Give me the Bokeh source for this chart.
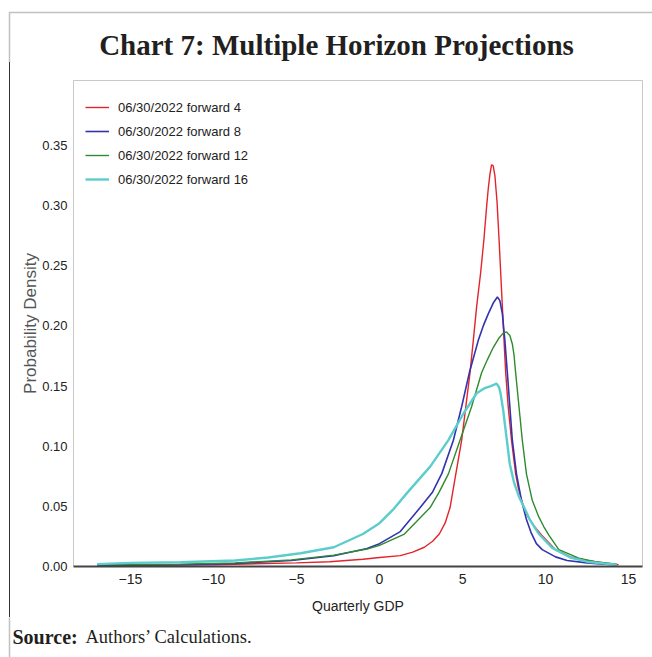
from bokeh.plotting import figure
from bokeh.models import (Legend, LegendItem, Label, BoxAnnotation, FixedTicker, Range1d,
                          CustomJSTickFormatter, Div)
from bokeh.layouts import column, row
from bokeh.embed import file_html
from bokeh.resources import INLINE

title_text = "Chart 7: Multiple Horizon Projections"
source_head = "Source:"
source_text = "Authors\u2019 Calculations."
x_label = "Quarterly GDP"
y_label = "Probability Density"
series_names = ["06/30/2022 forward 4", "06/30/2022 forward 8",
                "06/30/2022 forward 12", "06/30/2022 forward 16"]
x_ticks = [-15, -10, -5, 0, 5, 10, 15]
y_ticks = [0.00, 0.05, 0.10, 0.15, 0.20, 0.25, 0.30, 0.35]

red_x = [-17, -10, -5, -3, -1, 0, 1.25, 2.0, 2.7, 3.2, 3.6, 3.95, 4.25, 4.6, 4.95, 5.2,
         5.45, 5.65, 5.85, 6.09, 6.29, 6.45, 6.55, 6.65, 6.75, 6.85, 6.95, 7.08, 7.2, 7.3,
         7.4, 7.5, 7.6, 7.75, 7.95, 8.2, 8.35, 8.5, 8.7, 8.9, 9.3, 9.8, 10.6, 11.5, 12.5,
         13.5, 14.4]
red_y = [0.0005, 0.0015, 0.003, 0.004, 0.006, 0.0075, 0.009, 0.012, 0.016, 0.021, 0.027,
         0.036, 0.049, 0.0772, 0.105, 0.133, 0.161, 0.188, 0.216, 0.244, 0.272, 0.299,
         0.314, 0.326, 0.334, 0.333, 0.325, 0.303, 0.272, 0.244, 0.216, 0.188, 0.161,
         0.133, 0.105, 0.077, 0.066, 0.058, 0.049, 0.042, 0.034, 0.0255, 0.014, 0.008,
         0.005, 0.003, 0.0015]

blue_x = [-17, -12, -8.7, -5.3, -2.75, -0.75, 0, 1.25, 2.45, 3.2, 3.75, 4.45, 4.95, 5.41,
          5.95, 6.25, 6.55, 6.85, 7.1, 7.25, 7.4, 7.55, 7.7, 7.85, 8.0, 8.25, 8.55, 8.85,
          9.15, 9.45, 9.8, 10.6, 11.3, 12.5, 13.5, 14.3]
blue_y = [0.001, 0.0015, 0.0025, 0.005, 0.009, 0.015, 0.019, 0.029, 0.049, 0.062, 0.0772,
          0.105, 0.133, 0.161, 0.188, 0.2, 0.21, 0.219, 0.224, 0.221, 0.21, 0.188, 0.161,
          0.133, 0.105, 0.077, 0.055, 0.039, 0.0275, 0.019, 0.014, 0.008, 0.005, 0.003,
          0.002, 0.0015]

green_x = [-17, -12, -8.7, -5.3, -2.75, -0.75, 0, 1.5, 3.05, 3.6, 4.15, 4.85, 5.55, 6.15,
           6.5, 6.85, 7.2, 7.45, 7.65, 7.85, 8.0, 8.1, 8.2, 8.4, 8.6, 8.85, 9.2, 9.6, 9.9,
           10.2, 10.8, 12.0, 13.0, 14.3]
green_y = [0.0015, 0.002, 0.003, 0.0055, 0.0095, 0.0145, 0.0175, 0.027, 0.049, 0.062,
           0.077, 0.105, 0.133, 0.161, 0.172, 0.182, 0.19, 0.194, 0.195, 0.192, 0.185,
           0.176, 0.161, 0.133, 0.105, 0.077, 0.055, 0.041, 0.033, 0.026, 0.014, 0.007,
           0.004, 0.002]

cyan_x = [-17, -15, -12, -8.7, -6.7, -4.75, -2.75, -1, 0, 0.8, 1.65, 3.05, 4.15, 5.05,
          5.85, 6.3, 6.7, 7.05, 7.2, 7.29, 7.45, 7.6, 7.85, 8.1, 8.4, 8.75, 9.05, 9.6,
          10.4, 11.0, 11.5, 12.5, 13.5, 14.3]
cyan_y = [0.002, 0.003, 0.0035, 0.005, 0.0075, 0.011, 0.016, 0.027, 0.036, 0.047, 0.061,
          0.083, 0.105, 0.127, 0.144, 0.148, 0.15, 0.152, 0.149, 0.144, 0.13, 0.113, 0.085,
          0.07, 0.058, 0.048, 0.039, 0.027, 0.0155, 0.011, 0.0075, 0.004, 0.0025, 0.0015]

colors = ["#e3242b", "#3333b0", "#2e8b2e", "#5ccccc"]
widths = [1.4, 1.6, 1.4, 2.4]

W, H = 652, 657
HH, FH, SW = 62, 40, 10          # header height, footer height, left strip width
MH = H - HH - FH                 # main figure height
MW = W - SW                      # main figure width
FL, FR, FT, FB = 73, 642, 80, 566  # plot frame edges on the page

BOX_COLOR = "#333333"
BOX_W = 1.5
SERIF = "Liberation Serif, serif"
SANS = "Liberation Sans, Arial, sans-serif"


def blank(width, height, xr, yr):
    f = figure(width=width, height=height, output_backend="svg", toolbar_location=None,
               x_range=Range1d(*xr), y_range=Range1d(*yr), min_border=0, title=None)
    f.axis.visible = False
    f.grid.visible = False
    f.outline_line_color = None
    f.background_fill_color = "white"
    f.border_fill_color = "white"
    return f


# ---- header with title and the top-left frame corner
header = blank(W, HH, (0, W), (HH, 0))
header.add_layout(BoxAnnotation(left=9, right=W + 50, top=12, bottom=HH + 50,
                                fill_alpha=0, line_color=BOX_COLOR, line_width=BOX_W))
header.add_layout(Label(x=336, y=44, text=title_text, text_font=SERIF,
                        text_font_style="bold", text_font_size="29px",
                        text_color="#231f20", text_align="center",
                        text_baseline="middle"))

# ---- left strip carrying the frame's left edge
strip = Div(text="", width=SW, height=MH, margin=0,
            styles={"box-sizing": "border-box", "background": "white",
                    "border-right": f"{BOX_W}px solid {BOX_COLOR}",
                    "margin": "0", "padding": "0"})

# ---- footer with the source note
footer = blank(W, FH, (0, W), (FH, 0))
footer.add_layout(BoxAnnotation(left=9, right=W + 50, top=-50, bottom=FH + 50,
                                fill_alpha=0, line_color=BOX_COLOR, line_width=BOX_W))
footer.add_layout(Label(x=12, y=19, text=source_head, text_font=SERIF,
                        text_font_style="bold", text_font_size="20px",
                        text_color="#231f20", text_align="left",
                        text_baseline="middle"))
footer.add_layout(Label(x=85, y=19, text=source_text, text_font=SERIF,
                        text_font_size="18.5px", text_color="#231f20",
                        text_align="left", text_baseline="middle"))

# ---- main chart
p = figure(width=MW, height=MH, output_backend="svg", toolbar_location=None, title=None,
           x_range=Range1d(-18.43, 15.84), y_range=Range1d(0, 0.404),
           min_border_left=FL - SW, min_border_right=W - FR,
           min_border_top=FT - HH, min_border_bottom=(HH + MH) - FB)
p.background_fill_color = "white"
p.border_fill_color = "white"
p.outline_line_color = "#c8c8c8"
p.outline_line_width = 1
p.xgrid.visible = False
p.ygrid.visible = False

xa = p.xaxis[0]
xa.ticker = FixedTicker(ticks=x_ticks)
xa.axis_line_color = "#444444"
xa.axis_line_width = 2
xa.major_tick_line_color = None
xa.minor_tick_line_color = None
xa.major_label_text_font = SANS
xa.major_label_text_font_size = "14px"
xa.major_label_text_color = "#222222"
xa.major_label_standoff = 1
xa.axis_label = x_label
xa.axis_label_text_font = SANS
xa.axis_label_text_font_size = "14px"
xa.axis_label_text_font_style = "normal"
xa.axis_label_text_color = "#222222"
xa.axis_label_standoff = 11

ya = p.yaxis[0]
ya.ticker = FixedTicker(ticks=y_ticks)
ya.formatter = CustomJSTickFormatter(code="return tick.toFixed(2);")
ya.axis_line_color = None
ya.major_tick_line_color = None
ya.minor_tick_line_color = None
ya.major_label_text_font = SANS
ya.major_label_text_font_size = "13px"
ya.major_label_text_color = "#222222"
ya.major_label_standoff = 0
ya.axis_label = y_label
ya.axis_label_text_font = SANS
ya.axis_label_text_font_size = "17px"
ya.axis_label_text_font_style = "normal"
ya.axis_label_text_color = "#555555"
ya.axis_label_standoff = -1

xs = [red_x, blue_x, green_x, cyan_x]
ys = [red_y, blue_y, green_y, cyan_y]
items = []
for name, xv, yv, c, w in zip(series_names, xs, ys, colors, widths):
    r = p.line(xv, yv, line_color=c, line_width=w)
    items.append(LegendItem(label=name, renderers=[r]))

legend = Legend(items=items, location=(12, 377))
legend.margin = 0
legend.padding = 0
legend.spacing = 4
legend.glyph_width = 24
legend.glyph_height = 20
legend.label_standoff = 9
legend.label_text_font = SANS
legend.label_text_font_size = "13px"
legend.label_text_color = "#222222"
legend.border_line_color = None
legend.background_fill_alpha = 0
p.add_layout(legend)

layout = column(header, row(strip, p, spacing=0), footer, spacing=0)
open("out.html", "w").write(file_html(layout, INLINE))
